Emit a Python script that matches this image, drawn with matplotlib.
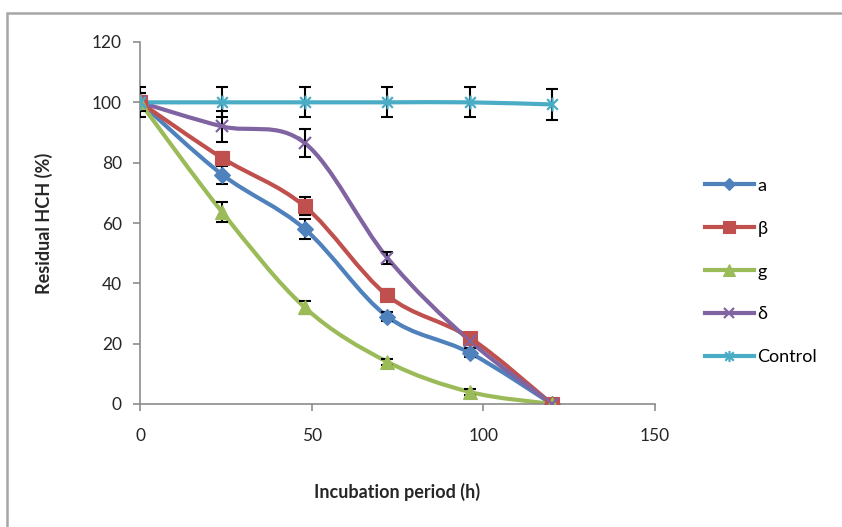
import numpy as np
import matplotlib
matplotlib.use("Agg")
import matplotlib.pyplot as plt
from matplotlib.path import Path
from matplotlib.patches import PathPatch, Rectangle

plt.rcParams['font.family'] = ['Lato', 'DejaVu Sans']

# Incubation time (h) and residual HCH (%) for each isomer and the control
hours = [0, 24, 48, 72, 96, 120]
series_names = ["a", "β", "g", "δ", "Control"]
alpha_vals = [100, 76, 58, 29, 17, 0]
beta_vals = [100, 81.5, 65.5, 36, 22, 0]
gamma_vals = [100, 63.5, 32, 14, 4, 0]
delta_vals = [100, 92, 86.5, 48.5, 21, 0]
control_vals = [100, 100, 100, 100, 100, 99.3]

alpha_err = [2, 3, 3.3, 1.5, 1.5, 0]
beta_err = [2, 2, 3, 2, 1.5, 0]
gamma_err = [2, 3.3, 2, 1, 1, 0]
delta_err = [3, 5, 4.5, 2, 1.5, 0]
control_err = [5, 5, 5, 5, 5, 5]

x_ticks = [0, 50, 100, 150]
y_ticks = [0, 20, 40, 60, 80, 100, 120]

colors = ["#4F81BD", "#C0504D", "#9BBB59", "#8064A2", "#4BACC6"]

# asterisk-style marker: an x crossed by a vertical stroke
star_marker = Path(
    [(-1, -1), (1, 1), (-1, 1), (1, -1), (0, -1.3), (0, 1.3)],
    [Path.MOVETO, Path.LINETO, Path.MOVETO, Path.LINETO, Path.MOVETO, Path.LINETO],
)
markers = ["D", "s", "^", "x", star_marker]
msizes = [8, 10, 10, 9, 10]


def smooth_path(xs, ys):
    """Cubic Bezier path through the points (Catmull-Rom style tangents)."""
    pts = np.column_stack([xs, ys]).astype(float)
    n = len(pts)
    verts = [pts[0]]
    codes = [Path.MOVETO]
    for i in range(n - 1):
        p0 = pts[i - 1] if i > 0 else pts[i]
        p1 = pts[i]
        p2 = pts[i + 1]
        p3 = pts[i + 2] if i + 2 < n else pts[i + 1]
        c1 = p1 + (p2 - p0) / 6.0
        c2 = p2 - (p3 - p1) / 6.0
        verts += [c1, c2, p2]
        codes += [Path.CURVE4] * 3
    return Path(verts, codes)


fig = plt.figure(figsize=(8.42, 5.27), dpi=100)
fig.patches.append(Rectangle((7 / 842, -0.1), 1.2, (527 - 13) / 527 + 0.1,
                             transform=fig.transFigure, fill=False,
                             edgecolor="#a6a6a6", linewidth=1.8))
ax = fig.add_axes([140 / 842, 1 - 404 / 527, (655 - 140) / 842, (404 - 42) / 527])

all_vals = [alpha_vals, beta_vals, gamma_vals, delta_vals, control_vals]
all_err = [alpha_err, beta_err, gamma_err, delta_err, control_err]

handles = []
for name, vals, errs, c, m, ms in zip(series_names, all_vals, all_err, colors, markers, msizes):
    ax.add_patch(PathPatch(smooth_path(hours, vals), facecolor="none",
                           edgecolor=c, linewidth=3.0, zorder=2))
    ax.errorbar(hours, vals, yerr=errs, fmt="none", ecolor="black",
                elinewidth=1.5, capsize=4.5, capthick=1.5, zorder=3)
    mew = 1.6 if (isinstance(m, Path) or m == "x") else 0.8
    ax.plot(hours, vals, linestyle="none", marker=m, markersize=ms,
            color=c, markeredgecolor=c, markeredgewidth=mew, zorder=4)
    h, = ax.plot([], [], color=c, linewidth=3.0, marker=m, markersize=ms * 0.8,
                 markeredgewidth=mew, label=name)
    handles.append(h)

ax.set_xlim(0, 150)
ax.set_ylim(0, 120)
ax.set_xticks(x_ticks)
ax.set_yticks(y_ticks)
for s in ["top", "right"]:
    ax.spines[s].set_visible(False)
for s in ["left", "bottom"]:
    ax.spines[s].set_color("#8c8c8c")
    ax.spines[s].set_linewidth(1.2)
ax.tick_params(axis="both", colors="#8c8c8c", labelcolor="#262626",
               labelsize=12.5, length=5, width=1.2, direction="out")
ax.tick_params(axis="y", pad=8)
ax.tick_params(axis="x", pad=12)

ax.set_xlabel("Incubation period (h)", fontsize=13, fontweight="bold",
              color="#262626", labelpad=28)
ax.set_ylabel("Residual HCH (%)", fontsize=13, fontweight="bold",
              color="#262626", labelpad=28)

fig.legend(handles=handles, loc="center left",
           bbox_to_anchor=(705 / 842, 1 - 271.5 / 527),
           frameon=False, fontsize=13, handlelength=2.7, handletextpad=0.2,
           labelspacing=1.49, borderaxespad=0, borderpad=0)

fig.savefig("out.png", dpi=100, facecolor="white")
